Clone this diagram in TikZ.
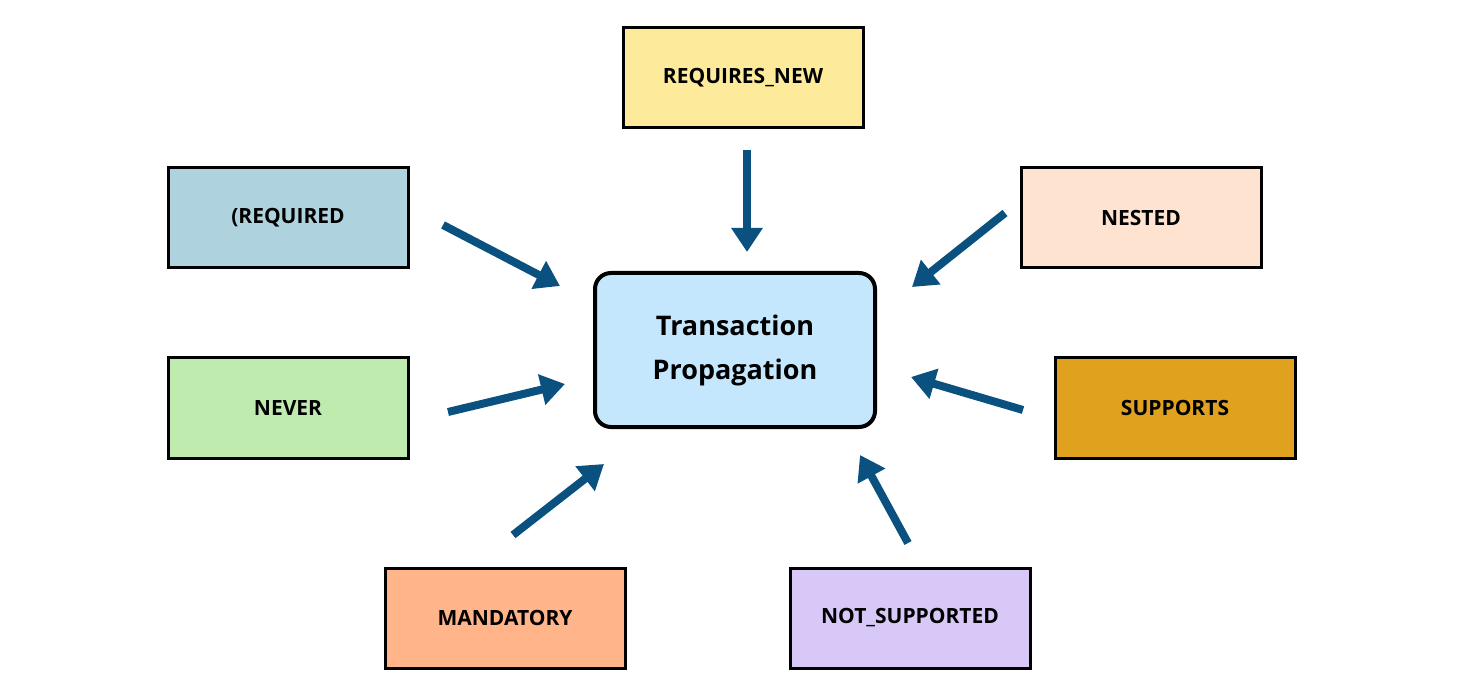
\documentclass[tikz,border=0pt]{standalone}
\usepackage{fontspec}
\setmainfont{Open Sans}
\usetikzlibrary{arrows.meta}
\definecolor{arr}{HTML}{0B5180}
\begin{document}
\begin{tikzpicture}[x=1pt,y=-1pt,
 box/.style={draw=black,line width=3pt,minimum width=240pt,minimum height=100pt,font=\bfseries\fontsize{21}{24}\selectfont,inner sep=0pt},
 ar/.style={draw=arr,line width=8pt,-{Triangle[length=24pt,width=30pt]}}]
\useasboundingbox (0,0) rectangle (1464,692);
\node[box,fill={rgb,255:red,253;green,235;blue,155}] (rn) at (743,78) {REQUIRES\_NEW};
\node[box,fill={rgb,255:red,175;green,211;blue,222}] (rq) at (288,218) {(REQUIRED};
\node[box,fill={rgb,255:red,254;green,228;blue,208}] (ns) at (1141,218) {NESTED};
\node[box,fill={rgb,255:red,192;green,235;blue,175}] (nv) at (288,408) {NEVER};
\node[box,fill={rgb,255:red,224;green,162;blue,30}] (sp) at (1175,408) {SUPPORTS};
\node[box,fill={rgb,255:red,255;green,180;blue,138}] (md) at (505,618) {MANDATORY};
\node[box,fill={rgb,255:red,216;green,200;blue,248}] (nsp) at (910,618) {NOT\_SUPPORTED};
\node[draw=black,line width=4pt,rounded corners=16pt,fill={rgb,255:red,196;green,231;blue,254},minimum width=280pt,minimum height=154pt,align=center,font=\bfseries\fontsize{27}{44}\selectfont] (c) at (735,350) {Transaction\\Propagation};
\coordinate (a1) at (747,150); \coordinate (b1) at (747,252);
\coordinate (a2) at (443,225); \coordinate (b2) at (560,286);
\coordinate (a3) at (1005,213); \coordinate (b3) at (912,287);
\coordinate (a4) at (448,412); \coordinate (b4) at (565,384);
\coordinate (a5) at (1023,410); \coordinate (b5) at (911,377);
\coordinate (a6) at (513,535); \coordinate (b6) at (604,464);
\coordinate (a7) at (908,543); \coordinate (b7) at (860,455);
\foreach \i in {1,...,7}{\draw[ar] (a\i) -- (b\i);}
\end{tikzpicture}
\end{document}
